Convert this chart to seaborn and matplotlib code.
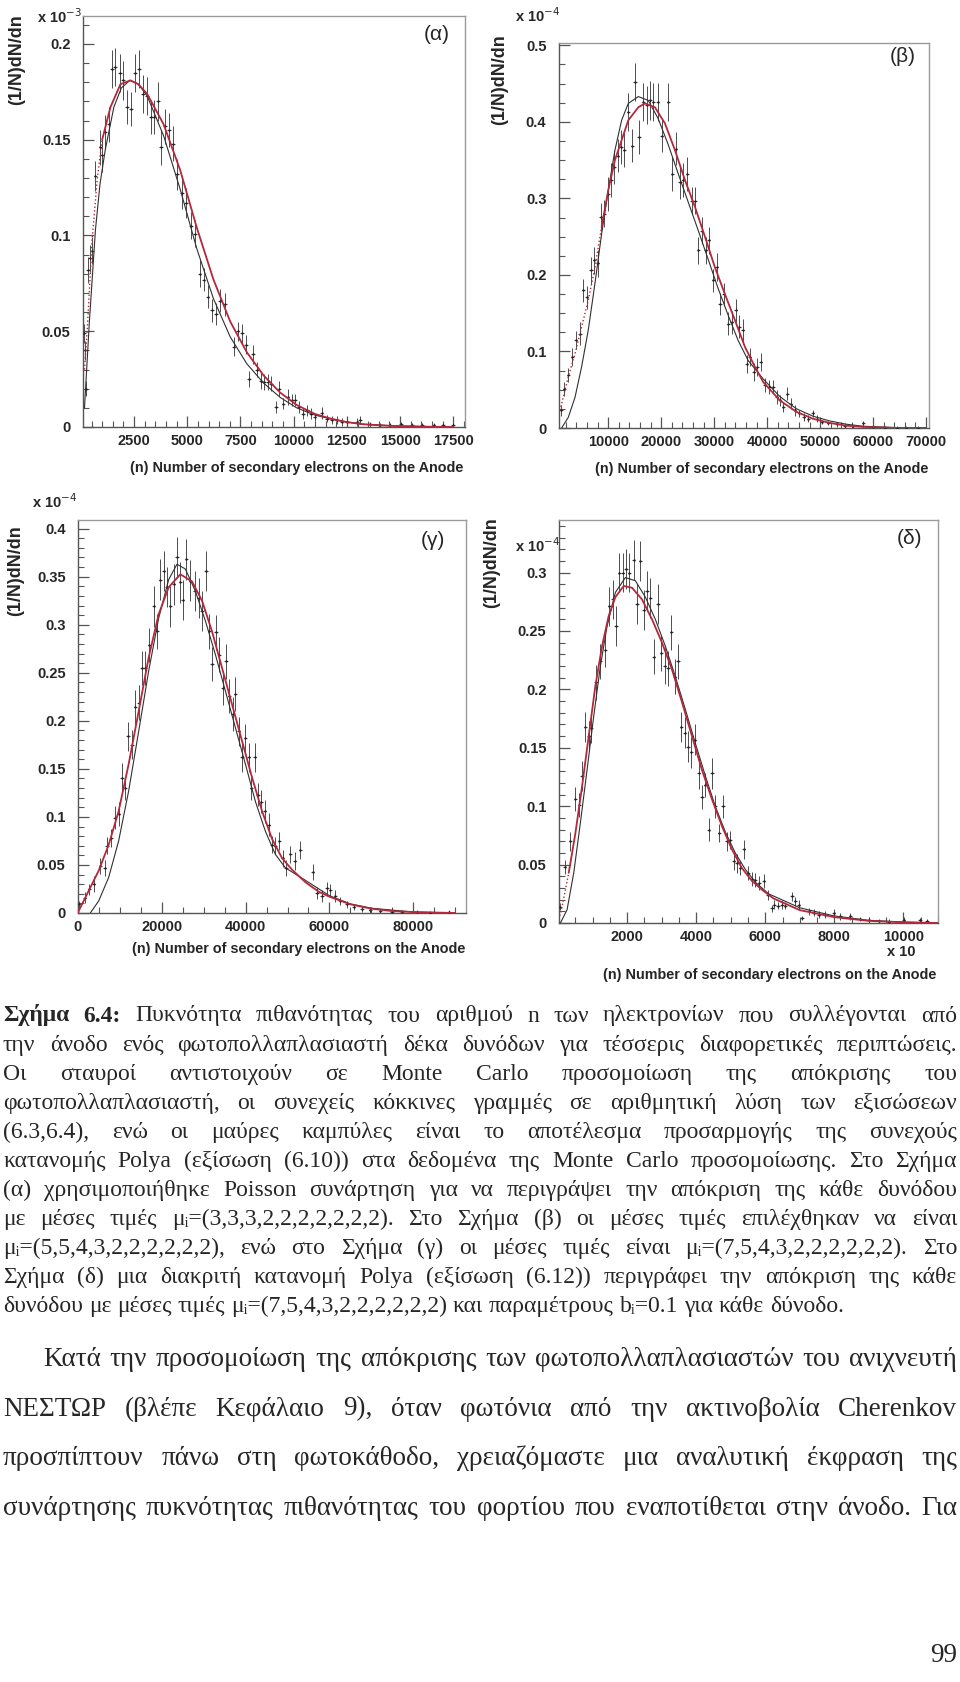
import matplotlib
matplotlib.use('Agg')
import matplotlib.pyplot as plt
import seaborn as sns
import pandas as pd
from matplotlib.ticker import MultipleLocator

W, H = 960, 1682

# ---------------- panel (α) ----------------
ALPHA_N = [170, 216, 264, 324, 420, 530, 685, 920, 1000, 1154, 1300, 1468, 1623, 1825, 1984, 2172, 2359,
           2561, 2716, 2922, 3110, 3297, 3452, 3607, 3766, 3968, 4125, 4310, 4516, 4750, 4953, 5173, 5375,
           5577, 5765, 5952, 6158, 6360, 6548, 6782, 7172, 7360, 7565, 7752, 7908, 8080, 8270, 8456, 8610,
           8770, 8950, 9160, 9330, 9520, 9710, 9910, 10060, 10250, 10420, 10610, 10800, 10980, 11310, 11550,
           11780, 12020, 12250, 12490, 12960, 13120, 13590, 14060, 14530, 15050, 15550, 16020, 16570, 17030, 17470]
ALPHA_F = [.049, .040, .020, .082, .088, .092, .131, .146, .142, .154, .158, .187, .188, .185, .181, .167, .166,
           .185, .187, .174, .173, .162, .162, .170, .146, .157, .155, .148, .132, .122, .117, .105, .101,
           .080, .077, .068, .061, .059, .066, .064, .042, .050, .049, .043, .025, .038, .030, .024, .0235,
           .0235, .0227, .0105, .020, .0122, .0157, .014, .014, .0105, .007, .0087, .007, .0052, .0073, .0044,
           .0035, .0035, .0026, .0026, .0026, .0035, .0014, .0009, .0009, .0014, .0008, .0008, .0008, .0008, .0011]
ALPHA_ERR = [.005, .005, .004, .007, .007, .007, .008, .009, .009, .009, .009, .010, .010, .010, .010, .009, .009,
             .010, .010, .010, .010, .009, .009, .010, .009, .009, .009, .009, .008, .008, .008, .007, .007,
             .007, .006, .006, .006, .006, .006, .006, .005, .005, .005, .005, .004, .005, .004, .004, .004,
             .004, .004, .003, .004, .003, .004, .003, .003, .003, .003, .003, .003, .002, .003, .002,
             .002, .002, .002, .002, .002, .002, .0012, .0012, .0012, .0012, .0012, .0012, .0012, .0012, .0012]
ALPHA_RED_N = [170, 300, 530, 765, 1000, 1390, 1860, 2330, 2700, 3110, 3890, 4670, 5450, 6230, 7020, 7800,
               8580, 9360, 10140, 11000, 11700, 12500, 13300, 14500, 16000, 17500]
ALPHA_RED_F = [.030, .051, .098, .129, .150, .167, .179, .181, .179, .174, .158, .134, .104, .077, .055, .039,
               .027, .018, .0115, .0068, .0045, .0025, .0014, .0006, .0002, 0.0]
ALPHA_FIT_N = [170, 400, 685, 900, 1150, 1550, 1900, 2300, 2700, 3110, 3890, 4670, 5450, 6230, 7020, 7800,
               8580, 9360, 10140, 11000, 12000, 13300, 15000, 17500]
ALPHA_FIT_F = [.010, .055, .103, .127, .145, .167, .177, .181, .179, .173, .152, .124, .093, .067, .047, .033,
               .023, .0155, .010, .0062, .0035, .0014, .0005, 0.0]
ALPHA_XTICKS = [2500, 5000, 7500, 10000, 12500, 15000, 17500]
ALPHA_YTICKS = [0, 0.05, 0.1, 0.15, 0.2]

# ---------------- panel (β) ----------------
BETA_N = [1074, 1703, 2458, 3213, 3842, 4660, 5290, 5918, 6735, 7364, 7993, 8622, 9251, 10006, 10509, 11140,
          11770, 12400, 13025, 13780, 14535, 15038, 15793, 16610, 17240, 17870, 18500, 19315, 20070, 21328,
          22080, 22710, 23530, 24160, 24910, 25730, 26360, 26990, 27620, 28370, 29000, 29820, 30450, 31080,
          31830, 32650, 33280, 34030, 34726, 35355, 36110, 36740, 37490, 38120, 38750, 39570, 40390, 41140,
          41770, 42400, 43030, 43780, 44410, 45230, 46050, 46930, 47750, 48565, 49320, 50260, 51520, 53090,
          54670, 56240, 58125, 60010, 62210, 64420, 66300, 68500]
BETA_F = [.023, .051, .069, .093, .115, .123, .180, .171, .206, .219, .215, .276, .280, .306, .324, .341,
          .356, .367, .363, .413, .369, .452, .380, .426, .422, .428, .426, .426, .382, .426,
          .332, .365, .321, .324, .332, .297, .297, .232, .258, .232, .245, .193, .210, .162,
          .175, .136, .138, .154, .132, .128, .084, .093, .073, .080, .086, .056, .054, .054,
          .041, .036, .0275, .045, .032, .023, .019, .0145, .0123, .019, .0123, .008, .0066, .0049,
          .0031, .0023, .0066, .0014, .0005, .0005, .0005, .0001]
BETA_ERR = [.007, .009, .009, .012, .012, .015, .015, .015, .018, .018, .018, .018, .018, .022, .022, .022,
            .022, .022, .022, .025, .022, .025, .022, .025, .025, .025, .025, .025, .022, .025,
            .022, .022, .022, .022, .022, .018, .018, .018, .018, .018, .018, .015, .018, .015,
            .015, .015, .015, .015, .015, .015, .012, .012, .012, .012, .012, .009, .009, .009,
            .009, .007, .007, .009, .007, .007, .005, .005, .005, .005, .005, .003, .003, .003,
            .003, .002, .003, .002, .002, .002, .002, .002]
BETA_RED_N = [885, 2460, 3720, 4970, 6230, 7490, 8750, 10010, 11260, 12520, 13780, 15670, 16930, 18810, 20700,
              22590, 24470, 26360, 28250, 30130, 32020, 33910, 35800, 37680, 39260, 42400, 45550, 48690, 51840,
              54980, 58130, 64420, 70000]
BETA_RED_F = [.023, .067, .097, .132, .167, .210, .263, .311, .350, .376, .402, .419, .424, .419, .398,
              .363, .324, .289, .250, .210, .175, .141, .106, .080, .060, .036, .021, .012, .0066,
              .003, .0014, .0001, 0.0]
BETA_FIT_N = [1200, 2460, 3720, 4970, 6230, 7490, 8750, 10010, 11260, 12520, 13780, 15670, 17550, 19440, 21330,
              23220, 25100, 26990, 28880, 30760, 32650, 34540, 36430, 39260, 42400, 45550, 48690, 51840, 54980,
              58130, 64420, 70000]
BETA_FIT_F = [0.0, .014, .040, .080, .128, .189, .254, .311, .363, .402, .424, .433, .428, .404, .370,
              .332, .295, .258, .220, .182, .147, .114, .088, .064, .041, .025, .0153, .0092, .0049,
              .0023, .0005, 0.0]
BETA_XTICKS = [10000, 20000, 30000, 40000, 50000, 60000, 70000]
BETA_YTICKS = [0, 0.1, 0.2, 0.3, 0.4, 0.5]

# ---------------- panel (γ) ----------------
GAMMA_N = [151, 1584, 2698, 3733, 5325, 6360, 6917, 7952, 8748, 9703, 10500, 11295, 11930, 12887, 13683, 14479,
           15275, 16070, 17030, 18060, 18860, 19650, 20450, 21245, 22040, 22840, 23630, 24430, 24990, 25860,
           26820, 27850, 28810, 29600, 30560, 31350, 31990, 32950, 33740, 34540, 35330, 36130, 36930, 37560,
           38360, 39150, 39950, 40750, 41380, 42180, 42980, 43770, 44570, 45520, 46320, 47120, 48070, 48870,
           49670, 50700, 51730, 53090, 56030, 57050, 58240, 59440, 60230, 61430, 62620, 64210, 65800, 67790,
           69780, 72170, 74950, 77340, 80920, 84100, 88480]
GAMMA_F = [.0089, .016, .0245, .030, .0488, .047, .070, .078, .099, .103, .141, .130, .184, .175, .214, .219,
           .255, .255, .279, .319, .293, .347, .356, .339, .319, .342, .370, .344, .326, .368,
           .346, .335, .328, .314, .356, .293, .259, .292, .269, .234, .262, .226, .207, .228,
           .189, .162, .182, .162, .130, .162, .123, .116, .106, .092, .071, .070, .075, .057,
           .047, .061, .054, .0655, .0426, .021, .0177, .026, .024, .0177, .0125, .009, .0062, .0045,
           .0031, .0017, .001, .0014, .0007, .0003, .001]
GAMMA_ERR = [.004, .006, .006, .008, .008, .008, .009, .009, .012, .012, .015, .012, .015, .015, .018, .018,
             .018, .018, .018, .021, .018, .021, .021, .021, .021, .021, .021, .021, .021, .021,
             .021, .021, .021, .021, .021, .018, .018, .018, .018, .018, .018, .018, .018, .018,
             .015, .015, .015, .015, .012, .015, .012, .012, .012, .012, .009, .009, .009, .009,
             .008, .009, .009, .009, .008, .006, .006, .006, .006, .006, .004, .004, .003, .003,
             .003, .002, .002, .002, .002, .002, .002]
GAMMA_RED_N = [0, 150, 2540, 4930, 7320, 9700, 12090, 14480, 16870, 19260, 21640, 24430, 27220, 29600, 31990,
               34380, 36770, 39150, 41540, 43930, 46320, 48710, 51100, 54280, 57500, 60000, 65000, 70000, 75000,
               80000, 90000]
GAMMA_RED_F = [0.0, .002, .023, .044, .071, .106, .155, .210, .266, .311, .339, .3525, .345, .325, .293,
               .255, .217, .179, .141, .106, .077, .057, .045, .032, .022, .017, .009, .0045, .002,
               .001, 0.0]
GAMMA_FIT_N = [2940, 4930, 7320, 9700, 12090, 14480, 16870, 19260, 21640, 23630, 25620, 28010, 30400, 32790,
               35180, 37560, 39950, 42340, 44730, 47110, 49500, 54280, 60000, 65000, 70000, 80000, 90000]
GAMMA_FIT_F = [0.0, .0125, .037, .075, .127, .189, .252, .307, .347, .363, .358, .335, .304, .269,
               .231, .193, .155, .116, .085, .061, .047, .034, .018, .0095, .005, .001, 0.0]
GAMMA_XTICKS = [0, 20000, 40000, 60000, 80000]
GAMMA_YTICKS = [0, 0.05, 0.1, 0.15, 0.2, 0.25, 0.3, 0.35, 0.4]

# ---------------- panel (δ) ----------------
DELTA_N = [71, 196, 360, 505, 620, 698, 794, 890, 968, 1103, 1228, 1373, 1488, 1584, 1681, 1777, 1874, 1970,
           2067, 2192, 2288, 2385, 2481, 2578, 2674, 2770, 2896, 2992, 3088, 3185, 3281, 3378, 3474, 3570,
           3667, 3763, 3860, 3956, 4072, 4168, 4265, 4361, 4457, 4554, 4670, 4775, 4891, 4987, 5084, 5180,
           5277, 5373, 5498, 5614, 5711, 5826, 5952, 6077, 6193, 6260, 6368, 6483, 6580, 6773, 6870, 6966,
           7062, 7255, 7400, 7545, 7737, 7978, 8170, 8460, 8749, 8990, 9279, 9568, 10002, 10484, 10677]
DELTA_F = [.014, .048, .070, .106, .101, .126, .168, .160, .167, .206, .224, .234, .271, .277, .254, .300, .300, .303,
           .300, .311, .273, .310, .268, .284, .278, .228, .273, .231, .220, .218, .249, .211, .224, .168,
           .163, .151, .146, .157, .128, .108, .118, .080, .128, .100, .077, .100, .070, .071, .053, .051,
           .047, .063, .043, .038, .037, .034, .0357, .024, .0128, .0157, .0148, .0157, .0148, .0228, .0185, .0157,
           .0043, .010, .0086, .0071, .0071, .0086, .0057, .0057, .0034, .0029, .0014, .0011, .0029, .0023, .0014]
DELTA_ERR = [.003, .006, .008, .010, .010, .013, .013, .013, .013, .015, .015, .015, .017, .017, .017, .017, .017, .017,
             .017, .017, .017, .017, .017, .017, .017, .015, .017, .015, .015, .015, .015, .015, .015, .013,
             .013, .013, .013, .013, .013, .010, .010, .010, .013, .010, .008, .010, .008, .008, .008, .008,
             .006, .008, .006, .006, .006, .006, .006, .004, .003, .004, .003, .004, .003, .004, .004, .004,
             .002, .003, .003, .003, .003, .003, .003, .003, .002, .002, .002, .002, .002, .002, .002]
DELTA_RED_N = [0, 119, 312, 505, 698, 890, 1083, 1276, 1469, 1662, 1903, 2144, 2433, 2722, 3011, 3300, 3590,
               3879, 4168, 4457, 4746, 5036, 5325, 5614, 5903, 6240, 7000, 8000, 9000, 10000, 11000]
DELTA_RED_F = [0.0, .014, .043, .077, .117, .160, .203, .237, .263, .279, .2885, .287, .277, .260, .240, .217, .189,
               .160, .131, .106, .083, .063, .047, .036, .0285, .021, .011, .005, .0018, .0006, 0.0]
DELTA_FIT_N = [71, 264, 457, 650, 842, 1035, 1228, 1421, 1662, 1951, 2240, 2529, 2818, 3108, 3397, 3686, 3975,
               4265, 4554, 4843, 5132, 5421, 5711, 6096, 7000, 8000, 9000, 10000, 11000]
DELTA_FIT_F = [0.0, .0114, .043, .086, .131, .177, .220, .254, .283, .2957, .293, .279, .260, .237, .211, .183, .154,
               .126, .100, .078, .060, .046, .035, .025, .013, .006, .0023, .0008, 0.0]
DELTA_XTICKS = [2000, 4000, 6000, 8000, 10000]
DELTA_YTICKS = [0, 0.05, 0.1, 0.15, 0.2, 0.25, 0.3]

PANEL_TAGS = ['(α)', '(β)', '(γ)', '(δ)']
SCALE_TAGS = [r'x 10$^{-3}$', r'x 10$^{-4}$', r'x 10$^{-4}$', r'x 10$^{-4}$']
YLABEL = '(1/N)dN/dn'
XLABEL = '(n) Number of secondary electrons on the Anode'

CAPTION = [
    'Σχήμα 6.4: Πυκνότητα πιθανότητας του αριθμού n των ηλεκτρονίων που συλλέγονται από',
    'την άνοδο ενός φωτοπολλαπλασιαστή δέκα δυνόδων για τέσσερις διαφορετικές περιπτώσεις.',
    'Οι σταυροί αντιστοιχούν σε Monte Carlo προσομοίωση της απόκρισης του',
    'φωτοπολλαπλασιαστή, οι συνεχείς κόκκινες γραμμές σε αριθμητική λύση των εξισώσεων',
    '(6.3,6.4), ενώ οι μαύρες καμπύλες είναι το αποτέλεσμα προσαρμογής της συνεχούς',
    'κατανομής Polya (εξίσωση (6.10)) στα δεδομένα της Monte Carlo προσομοίωσης. Στο Σχήμα',
    '(α) χρησιμοποιήθηκε Poisson συνάρτηση για να περιγράψει την απόκριση της κάθε δυνόδου',
    'με μέσες τιμές μᵢ=(3,3,3,2,2,2,2,2,2,2). Στο Σχήμα (β) οι μέσες τιμές επιλέχθηκαν να είναι',
    'μᵢ=(5,5,4,3,2,2,2,2,2,2), ενώ στο Σχήμα (γ) οι μέσες τιμές είναι μᵢ=(7,5,4,3,2,2,2,2,2,2). Στο',
    'Σχήμα (δ) μια διακριτή κατανομή Polya (εξίσωση (6.12)) περιγράφει την απόκριση της κάθε',
    'δυνόδου με μέσες τιμές μᵢ=(7,5,4,3,2,2,2,2,2,2) και παραμέτρους bᵢ=0.1 για κάθε δύνοδο.',
]
BODY = [
    'Κατά την προσομοίωση της απόκρισης των φωτοπολλαπλασιαστών του ανιχνευτή',
    'ΝΕΣΤΩΡ (βλέπε Κεφάλαιο 9), όταν φωτόνια από την ακτινοβολία Cherenkov',
    'προσπίπτουν πάνω στη φωτοκάθοδο,  χρειαζόμαστε μια αναλυτική έκφραση της',
    'συνάρτησης πυκνότητας πιθανότητας του φορτίου που εναποτίθεται στην άνοδο. Για',
]
PAGE = '99'

sns.set_style('white')
plt.rcParams['font.family'] = ['Liberation Sans', 'DejaVu Sans']
SERIF = ['Liberation Serif', 'DejaVu Serif']

fig = plt.figure(figsize=(9.6, 16.82), dpi=100)


def ftext(x, y, s, **kw):
    return fig.text(x / W, 1 - y / H, s, **kw)


panels = [
    dict(box=(83, 16, 465, 427), xlim=(100, 18050), ylim=(0, 0.2146), xminor=500, yminor=0.01, xerr=90,
         pts=(ALPHA_N, ALPHA_F, ALPHA_ERR), red=(ALPHA_RED_N, ALPHA_RED_F), fit=(ALPHA_FIT_N, ALPHA_FIT_F),
         dots=4, xt=ALPHA_XTICKS, yt=ALPHA_YTICKS,
         tag=(437, 35), scale=(37, 23), ylab=(17, 14), xlab=(463, 468)),
    dict(box=(559, 43, 929, 428), xlim=(700, 70550), ylim=(0, 0.503), xminor=2000, yminor=0.025, xerr=300,
         pts=(BETA_N, BETA_F, BETA_ERR), red=(BETA_RED_N, BETA_RED_F), fit=(BETA_FIT_N, BETA_FIT_F),
         dots=6, xt=BETA_XTICKS, yt=BETA_YTICKS,
         tag=(903, 57), scale=(515, 22), ylab=(500, 34), xlab=(928, 469)),
    dict(box=(78, 520, 466, 913), xlim=(0, 92600), ylim=(0, 0.409), xminor=5000, yminor=0.01, xerr=400,
         pts=(GAMMA_N, GAMMA_F, GAMMA_ERR), red=(GAMMA_RED_N, GAMMA_RED_F), fit=(GAMMA_FIT_N, GAMMA_FIT_F),
         dots=0, xt=GAMMA_XTICKS, yt=GAMMA_YTICKS,
         tag=(433, 541), scale=(32, 508), ylab=(16, 525), xlab=(465, 949)),
    dict(box=(559, 520, 938, 923), xlim=(30, 11000), ylim=(0, 0.345), xminor=500, yminor=0.01, xerr=50,
         pts=(DELTA_N, DELTA_F, DELTA_ERR), red=(DELTA_RED_N, DELTA_RED_F), fit=(DELTA_FIT_N, DELTA_FIT_F),
         dots=2, xt=DELTA_XTICKS, yt=DELTA_YTICKS,
         tag=(909, 538), scale=(515, 552), ylab=(492, 517), xlab=(936, 975)),
]

RED = '#b3283a'
for i, p in enumerate(panels):
    l, t, r, b = p['box']
    ax = fig.add_axes([l / W, 1 - b / H, (r - l) / W, (b - t) / H])
    n, f, e = p['pts']
    ax.errorbar(n, f, yerr=e, xerr=p['xerr'], fmt='none', ecolor='#4d4d4d', elinewidth=0.7, capsize=0)
    df = pd.DataFrame({'n': n, 'f': f})
    sns.scatterplot(data=df, x='n', y='f', ax=ax, s=3, color='#222222', linewidth=0, zorder=3)
    sns.lineplot(x=p['fit'][0], y=p['fit'][1], ax=ax, color='#303030', lw=0.8, sort=False,
                 estimator=None, zorder=4)
    rn, rf = p['red']
    k = p['dots']
    if k > 0:
        sns.lineplot(x=rn[:k + 1], y=rf[:k + 1], ax=ax, color=RED, lw=1.0, linestyle=':',
                     sort=False, estimator=None, zorder=5)
    sns.lineplot(x=rn[k:], y=rf[k:], ax=ax, color=RED, lw=1.3, sort=False, estimator=None, zorder=5)

    ax.set_xlim(*p['xlim'])
    ax.set_ylim(*p['ylim'])
    ax.set_xlabel('')
    ax.set_ylabel('')
    ax.set_xticks(p['xt'])
    ax.set_xticklabels([str(v) for v in p['xt']], fontsize=10.5, fontweight='bold')
    ax.set_yticks(p['yt'])
    ax.set_yticklabels([f'{v:g}' for v in p['yt']], fontsize=10.5, fontweight='bold')
    ax.xaxis.set_minor_locator(MultipleLocator(p['xminor']))
    ax.yaxis.set_minor_locator(MultipleLocator(p['yminor']))
    ax.tick_params(which='both', direction='in', top=False, right=False, bottom=True, left=True,
                   color='#555555')
    ax.tick_params(which='major', length=8, width=0.9)
    ax.tick_params(which='minor', length=4, width=0.8)
    ax.tick_params(axis='y', which='major', pad=9)
    ax.tick_params(axis='x', which='major', pad=5)
    for side in ['top', 'right']:
        ax.spines[side].set_color('#9a9a9a')
        ax.spines[side].set_linewidth(1.0)
    for side in ['left', 'bottom']:
        ax.spines[side].set_color('#555555')
        ax.spines[side].set_linewidth(1.0)

    ftext(*p['tag'], PANEL_TAGS[i], fontsize=15, ha='center', va='center')
    ftext(*p['scale'], SCALE_TAGS[i], fontsize=10.5, fontweight='bold', ha='left', va='baseline')
    ftext(*p['ylab'], YLABEL, fontsize=13, fontweight='bold', rotation=90, ha='center', va='top')
    ftext(*p['xlab'], XLABEL, fontsize=10.4, fontweight='bold', ha='right', va='center')

ftext(901, 952, 'x 10', fontsize=10.5, fontweight='bold', ha='center', va='center')

# ---------------- justified Greek text ----------------
fig.canvas.draw()
renderer = fig.canvas.get_renderer()


def measure(s, size, weight='normal'):
    t = fig.text(0, 0, s, fontsize=size, fontweight=weight, family=SERIF)
    w = t.get_window_extent(renderer=renderer).width
    t.remove()
    return w


def fit_size(lines, target, left, right, indent, bold_first, justify_last):
    s0 = 10.0
    sp = measure('a a', s0) - measure('aa', s0)
    best = target
    for i, line in enumerate(lines):
        if i == len(lines) - 1 and not justify_last:
            continue
        words = line.split()
        nat = sum(measure(w, s0, 'bold' if (i == 0 and j < bold_first) else 'normal')
                  for j, w in enumerate(words)) + sp * (len(words) - 1)
        avail = right - left - (indent if i == 0 else 0)
        best = min(best, s0 * avail / nat * 0.995)
    return best


def draw_block(lines, baselines, size, left, right, indent=0, bold_first=0, justify_last=False):
    sp = measure('a a', size) - measure('aa', size)
    for i, (line, yb) in enumerate(zip(lines, baselines)):
        words = line.split()
        weights = ['bold' if (i == 0 and j < bold_first) else 'normal' for j in range(len(words))]
        widths = [measure(w, size, wt) for w, wt in zip(words, weights)]
        x0 = left + (indent if i == 0 else 0)
        last = i == len(lines) - 1
        if len(words) > 1 and (justify_last or not last):
            gap = (right - x0 - sum(widths)) / (len(words) - 1)
        else:
            gap = sp
        x = x0
        for w, wt, wd in zip(words, weights, widths):
            ftext(x, yb, w, fontsize=size, fontweight=wt, family=SERIF, ha='left', va='baseline')
            x += wd + gap


cap_size = fit_size(CAPTION, 17.0, 3, 957, 0, 2, False)
cap_base = [1021.5 + 29.07 * i for i in range(len(CAPTION))]
draw_block(CAPTION, cap_base, cap_size, 3, 957, 0, 2, False)

body_size = fit_size(BODY, 19.5, 3, 957, 40, 0, True)
body_base = [1366 + 49.6 * i for i in range(len(BODY))]
draw_block(BODY, body_base, body_size, 3, 957, 40, 0, True)

ftext(957, 1662, PAGE, fontsize=body_size, family=SERIF, ha='right', va='baseline')

fig.savefig('out.png', dpi=100)
